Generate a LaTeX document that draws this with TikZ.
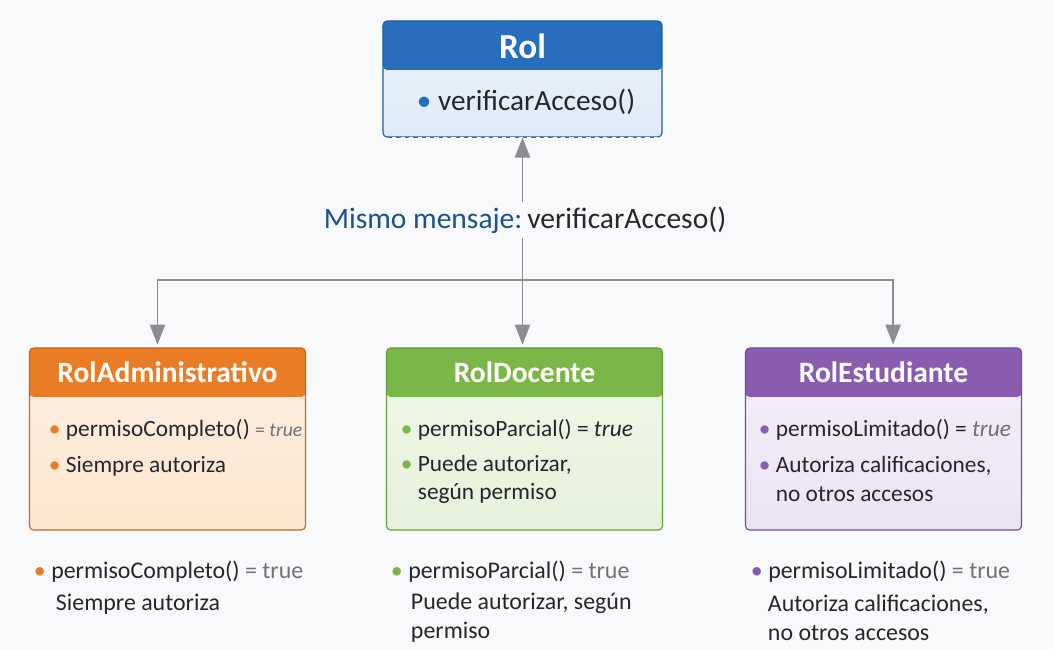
\documentclass[tikz,border=0pt]{standalone}
\usepackage{fontspec}
\setmainfont{Carlito}
\usetikzlibrary{arrows.meta,positioning,calc}

\definecolor{rolblue}{RGB}{40,110,188}
\definecolor{rolbody}{RGB}{222,234,247}
\definecolor{admorange}{RGB}{233,124,36}
\definecolor{admbody}{RGB}{252,229,205}
\definecolor{docgreen}{RGB}{122,182,72}
\definecolor{docbody}{RGB}{230,241,218}
\definecolor{estpurple}{RGB}{137,92,176}
\definecolor{estbody}{RGB}{235,227,243}
\definecolor{msgblue}{RGB}{28,80,146}
\definecolor{conngray}{RGB}{140,140,148}
\definecolor{txtdark}{RGB}{38,38,44}
\definecolor{txtgray}{RGB}{112,112,120}
\definecolor{bgcol}{RGB}{248,249,251}

\newcommand\dotb[1]{\textcolor{#1}{\textbullet}}

\begin{document}
\begin{tikzpicture}[x=0.025cm, y=-0.025cm,
  cls/.style 2 args={draw=#1!85!black, line width=0.8pt, rounded corners=3pt,
    top color=#2!55!white, bottom color=#2, minimum width=6.9cm, minimum height=4.55cm,
    path picture={\fill[#1] (path picture bounding box.north west) rectangle
      ([yshift=-1.225cm]path picture bounding box.north east);}},
  head/.style={text=white, font=\fontsize{21}{24}\selectfont\bfseries},
  item/.style={anchor=west, text=txtdark, align=left, font=\fontsize{16.6}{20}\selectfont},
  note/.style={anchor=west, text=txtdark, align=left, font=\fontsize{17}{20.5}\selectfont},
  conn/.style={conngray, line width=1.4pt, -{Triangle[width=0.38cm, length=0.5cm]}}]
  % background
  \fill[bgcol] (0,0) rectangle (1054,649);
  \useasboundingbox (0,0) rectangle (1054,649);

  % base class
  \node[cls={rolblue}{rolbody}, minimum width=6.975cm, minimum height=2.9cm] (rol) at (522.5,79) {};
  \draw[white, line width=1.5pt] ([xshift=4pt]rol.south west) -- ([xshift=-4pt]rol.south east);
  \draw[rolblue, dashed, line width=0.8pt] ([xshift=4pt]rol.south west) -- ([xshift=-4pt]rol.south east);
  \node[head, font=\fontsize{25}{28}\selectfont\bfseries] (rolT) at (522.5,46) {Rol};
  \node[item, font=\fontsize{20.8}{24}\selectfont] (rolM) at (412,102) {\dotb{rolblue}\ verificarAcceso()};

  % message
  \node[font=\fontsize{21}{24}\selectfont] (msg) at (525,220)
    {\textcolor{msgblue}{Mismo mensaje:}\,\textcolor{txtdark}{verificarAcceso()}};
  \coordinate (jn) at (522.5,280);

  % subclasses
  \node[cls={admorange}{admbody}] (adm) at (167.5,439) {};
  \node[head] (admT) at (167.5,372) {RolAdministrativo};
  \node[cls={docgreen}{docbody}] (doc) at (524.5,439) {};
  \node[head] (docT) at (524.5,372) {RolDocente};
  \node[cls={estpurple}{estbody}] (est) at (883.5,439) {};
  \node[head] (estT) at (883.5,372) {RolEstudiante};

  % connectors
  \draw[conn] (msg.north -| rol.south) -- (rol.south);
  \draw[conngray, line width=1.4pt] (jn) -- (jn |- msg.south);
  \draw[conn, shorten >=2pt] (jn) -| ([xshift=-0.25cm]adm.north);
  \draw[conn, shorten >=2pt] (jn) -- (jn |- doc.north);
  \draw[conn, shorten >=2pt] (jn) -| ([xshift=0.24cm]est.north);

  % box contents
  \node[item] (adm1) at (44,430) {\dotb{admorange}\ permisoCompleto() {\color{txtgray}\fontsize{14}{16}\selectfont = \textit{true}}};
  \node[item] (adm2) at (44,466) {\dotb{admorange}\ Siempre autoriza};
  \node[item] (doc1) at (396,430) {\dotb{docgreen}\ permisoParcial() = \textit{true}};
  \node[item] (doc2) at (396,479) {\dotb{docgreen}\ Puede autorizar,\\\phantom{\dotb{docgreen}\ }según permiso};
  \node[item] (est1) at (754,430) {\dotb{estpurple}\ permisoLimitado() = {\color{txtgray}\textit{true}}};
  \node[item] (est2) at (754,479) {\dotb{estpurple}\ Autoriza calificaciones,\\\phantom{\dotb{estpurple}\ }no otros accesos};

  % notes below
  \node[note] (admN1) at (29,572) {\dotb{admorange}\ permisoCompleto() {\color{txtgray}= true}};
  \node[note] (admN2) at (51,604) {Siempre autoriza};
  \node[note] (docN1) at (386,572) {\dotb{docgreen}\ permisoParcial() {\color{txtgray}= true}};
  \node[note] (docN2) at (406,618) {Puede autorizar, según\\permiso};
  \node[note] (estN1) at (746,572) {\dotb{estpurple}\ permisoLimitado() {\color{txtgray}= true}};
  \node[note] (estN2) at (763,618) {Autoriza calificaciones,\\no otros accesos};
\end{tikzpicture}
\end{document}
